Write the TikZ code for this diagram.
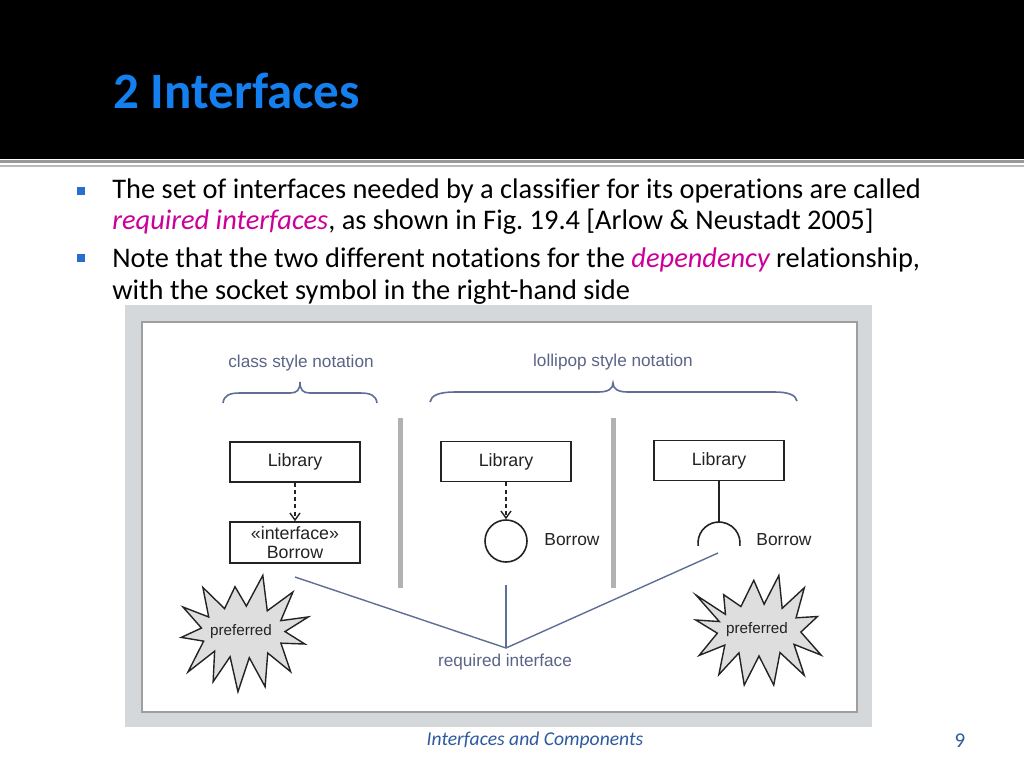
\documentclass[tikz,border=0pt]{standalone}
\usepackage{fontspec}
\setmainfont{Carlito}[Ligatures={NoCommon}]
\newfontfamily\diagfont{Liberation Sans}
\usetikzlibrary{arrows.meta}
\definecolor{titleblue}{RGB}{20,128,240}
\definecolor{bulletblue}{RGB}{40,110,205}
\definecolor{accentpink}{RGB}{204,0,153}
\definecolor{labelblue}{RGB}{90,100,135}
\definecolor{lineblue}{RGB}{95,110,150}
\definecolor{footblue}{RGB}{45,90,160}
\definecolor{panelgray}{RGB}{212,216,218}
\definecolor{stargray}{RGB}{222,222,222}
\definecolor{sepgray}{RGB}{178,178,178}
\definecolor{inkgray}{RGB}{35,35,35}
\tikzset{
  bodytext/.style={anchor=base west, inner sep=0pt, font=\fontsize{14.2}{16}\selectfont, text=black},
  umlbox/.style={draw=inkgray, line width=0.8pt, minimum width=65pt, minimum height=20pt, inner sep=0pt, font=\diagfont\fontsize{8.9}{10}\selectfont, text=inkgray, align=center},
  lbl/.style={inner sep=0pt, font=\diagfont\fontsize{8.6}{10}\selectfont, text=labelblue},
  dep/.style={draw=inkgray, line width=0.7pt, dash pattern=on 2pt off 1.6pt, -{Straight Barb[width=5pt,length=3.5pt]}},
  reqline/.style={draw=lineblue, line width=0.7pt},
  brace/.style={draw=lineblue, line width=0.8pt},
  starshape/.style={draw=inkgray, fill=stargray, line width=0.7pt, line join=miter},
  startext/.style={inner sep=0pt, font=\diagfont\fontsize{7.6}{9}\selectfont, text=inkgray},
  sepbar/.style={draw=sepgray, line width=2.5pt},
}
\frenchspacing
\begin{document}
\begin{tikzpicture}[x=0.5pt,y=-0.5pt]
\useasboundingbox (0,0) rectangle (1024,768);
\fill[white] (0,0) rectangle (1024,768);
% header
\fill[black] (0,0) rectangle (1024,159);
\draw[gray!80, line width=1.5pt] (0,161) -- (1024,161);
\draw[gray!55, line width=1pt] (0,166) -- (1024,166);
\node[anchor=base west, inner sep=0pt, font=\fontsize{25.5}{30}\selectfont\bfseries, text=titleblue] (title) at (113,108) {2 Interfaces};
% bullets
\fill[bulletblue] (77,187) rectangle (85,195);
\fill[bulletblue] (77,254) rectangle (85,262);
\node[bodytext] (l1) at (112,198) {The set of interfaces needed by a classifier for its operations are called};
\node[bodytext] (l2) at (112,229) {\textcolor{accentpink}{\itshape required interfaces}, as shown in Fig.\ 19.4 [Arlow \& Neustadt 2005]};
\node[bodytext] (l3) at (112,267) {Note that the two different notations for the \textcolor{accentpink}{\itshape dependency} relationship,};
\node[bodytext] (l4) at (112,299) {with the socket symbol in the right-hand side};
% figure panel
\fill[panelgray] (125,305) rectangle (872,727);
\filldraw[fill=white, draw=gray!75, line width=0.8pt] (142,322) rectangle (857,712);
% headings and braces
\node[lbl] (hclass) at (301,363) {class style notation};
\node[lbl] (hlolli) at (613,362) {lollipop style notation};
\draw[brace] (223,403) .. controls (224,395) and (230,393) .. (240,393) -- (290,393) .. controls (297,393) and (300,390) .. (300,382) .. controls (300,390) and (303,393) .. (310,393) -- (360,393) .. controls (370,393) and (376,395) .. (377,403);
\draw[brace] (430,402) .. controls (431,395) and (440,392) .. (455,392) -- (598,392) .. controls (608,392) and (613,389) .. (613,383) .. controls (613,389) and (618,392) .. (628,392) -- (775,392) .. controls (788,392) and (796,395) .. (797,401);
% separators
\draw[sepbar] (400,418) -- (400,588);
\draw[sepbar] (613,418) -- (613,588);
% class style
\node[umlbox] (lib1) at (295,462) {Library};
\node[umlbox, minimum height=20.5pt] (intf) at (295,542.5) {«interface»\\[-0.3pt]Borrow};
\draw[dep] (lib1.south) -- (intf.north);
% lollipop dependency
\node[umlbox] (lib2) at (506,461.5) {Library};
\node[draw=inkgray, line width=0.8pt, circle, minimum size=21pt, inner sep=0pt] (lolli) at (506,541) {};
\draw[dep] (lib2.south) -- (lolli.north);
\node[lbl, text=inkgray, font=\diagfont\fontsize{8.7}{10}\selectfont] (bor2) at (572,540) {Borrow};
% socket
\node[umlbox] (lib3) at (719,460.5) {Library};
\coordinate (sockc) at (719,543);
\coordinate (socktop) at (719,522);
\draw[draw=inkgray, line width=0.8pt] (lib3.south) -- (socktop);
\draw[draw=inkgray, line width=0.8pt] (sockc) ++(172:21) arc[start angle=172, end angle=368, radius=21];
\node[lbl, text=inkgray, font=\diagfont\fontsize{8.7}{10}\selectfont] (bor3) at (784,540) {Borrow};
% required interface lines
\coordinate (junc) at (506,648);
\coordinate (fromintf) at (295,577);
\coordinate (fromlolli) at (506,585);
\coordinate (fromsock) at (718,553);
\draw[reqline] (fromintf) -- (junc) -- (fromsock);
\draw[reqline] (fromlolli) -- (junc);
\node[lbl] (req) at (505,662) {required interface};
% left star
\begin{scope}[shift={(243,632)}]
\draw[starshape] (-70.7:60) -- (-54.7:42 and 26) -- (-38.7:64) -- (-25.9:42 and 26) -- (-13:67) -- (-1:42 and 26) -- (11:63) -- (25.4:42 and 26) -- (39.8:62) -- (53.9:42 and 26) -- (68:59) -- (81.4:42 and 26) -- (94.8:60) -- (107.9:42 and 26) -- (121:58) -- (132.5:42 and 26) -- (144:68) -- (159.5:42 and 26) -- (175:62) -- (188.8:42 and 26) -- (202.6:65) -- (215.3:42 and 26) -- (228:60) -- (244:42 and 26) -- (260:46) -- (274.6:42 and 26) -- cycle;
\end{scope}
\node[startext] (pref1) at (241,632) {preferred};
% right star
\begin{scope}[shift={(759,630)}]
\draw[starshape] (-70:58) -- (-56.5:42 and 26) -- (-43:62) -- (-28:42 and 26) -- (-13:60) -- (4.5:42 and 26) -- (22:67) -- (33.5:42 and 26) -- (45:64) -- (60:42 and 26) -- (75:57) -- (90:42 and 26) -- (105:57) -- (118.5:42 and 26) -- (132:60) -- (144.5:42 and 26) -- (157:65) -- (173:42 and 26) -- (189:64) -- (199:42 and 26) -- (209:72) -- (217:42 and 26) -- (225:50) -- (244.5:42 and 26) -- (264:50) -- (277:42 and 26) -- cycle;
\end{scope}
\node[startext] (pref2) at (757,630) {preferred};
% footer
\node[anchor=base, inner sep=0pt, font=\fontsize{9.8}{12}\selectfont\itshape, text=footblue] (foot) at (535,745) {Interfaces and Components};
\node[anchor=base, inner sep=0pt, font=\fontsize{10.5}{12}\selectfont, text=footblue] (pnum) at (960,747) {9};
\end{tikzpicture}
\end{document}
